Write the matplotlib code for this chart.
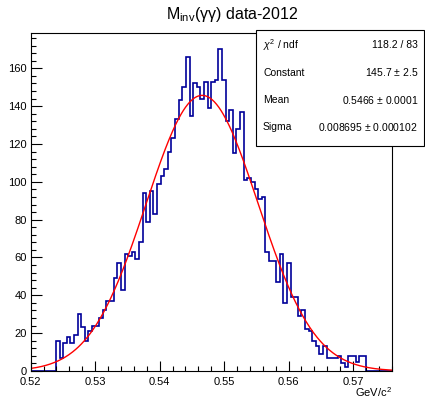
import numpy as np
import matplotlib
matplotlib.use("Agg")
import matplotlib.pyplot as plt
from matplotlib.patches import Rectangle
from matplotlib.ticker import MultipleLocator

plt.rcParams['font.family'] = ['Liberation Sans', 'DejaVu Sans']
plt.rcParams['mathtext.fontset'] = 'custom'
plt.rcParams['mathtext.rm'] = 'Liberation Sans'
plt.rcParams['mathtext.it'] = 'Liberation Sans:italic'

# histogram: 100 bins between 0.52 and 0.576
x_min = 0.52
x_max = 0.576
n_bins = 100

# bin contents (bins 7..92, the rest are empty)
first_bin = 7
counts_nonzero = [16, 7, 15, 18, 15, 19, 30, 23, 16, 21, 24, 24, 28, 32, 37, 37,
                  49, 57, 43, 62, 61, 63, 59, 68, 94, 79, 95, 83, 99, 103, 107,
                  116, 123, 133, 143, 150, 166, 135, 152, 150, 144, 153, 139, 153,
                  154, 170, 154, 132, 138, 115, 128, 137, 101, 102, 100, 96, 91,
                  92, 63, 58, 58, 47, 62, 36, 57, 39, 39, 29, 32, 22, 21, 16, 13,
                  9, 13, 7, 7, 7, 8, 4, 2, 8, 8, 5, 8, 8]

# gaussian fit result
fit_constant = 145.7
fit_mean = 0.5466
fit_sigma = 0.008695

stat_labels = ['$\\chi^2$ / ndf', 'Constant', 'Mean', 'Sigma']
stat_values = ['118.2 / 83', '145.7 $\\pm$ 2.5', '0.5466 $\\pm$ 0.0001',
               '0.008695 $\\pm$ 0.000102']

counts = np.zeros(n_bins)
counts[first_bin:first_bin + len(counts_nonzero)] = counts_nonzero
edges = np.linspace(x_min, x_max, n_bins + 1)

fig = plt.figure(figsize=(4.25, 4.01), dpi=100)
ax = fig.add_axes([0.0722, 0.0748, 0.8494, 0.8421])

ax.stairs(counts, edges, color='#000099', linewidth=1.2)

xf = np.linspace(x_min, x_max, 500)
yf = fit_constant * np.exp(-0.5 * ((xf - fit_mean) / fit_sigma) ** 2)
ax.plot(xf, yf, color='red', linewidth=1.0)

ax.set_xlim(x_min, x_max)
ax.set_ylim(0, 1.05 * max(counts))

ax.xaxis.set_major_locator(MultipleLocator(0.01))
ax.xaxis.set_minor_locator(MultipleLocator(0.002))
ax.yaxis.set_major_locator(MultipleLocator(20))
ax.yaxis.set_minor_locator(MultipleLocator(4))
ax.xaxis.set_major_formatter(matplotlib.ticker.FormatStrFormatter('%.2f'))

ax.tick_params(axis='x', which='major', direction='in', length=7.2, width=0.8,
               labelsize=8, pad=4)
ax.tick_params(axis='x', which='minor', direction='in', length=3.6, width=0.8)
ax.tick_params(axis='y', which='major', direction='in', length=7.8, width=0.8,
               labelsize=8, pad=3)
ax.tick_params(axis='y', which='minor', direction='in', length=3.9, width=0.8)
for s in ax.spines.values():
    s.set_linewidth(0.8)

ax.text(1.0, -0.062, 'GeV/c$^2$', transform=ax.transAxes, ha='right',
        va='center', fontsize=8)

fig.text(232 / 425, 1 - 14 / 401, 'M$_{\\mathrm{inv}}$(γγ) data-2012',
         ha='center', va='center', fontsize=11.5)

# stats box
bx0, bx1 = 256 / 425, 424 / 425
by0, by1 = 1 - 146 / 401, 1 - 30 / 401
fig.patches.append(Rectangle((bx0, by0), bx1 - bx0, by1 - by0,
                             transform=fig.transFigure, facecolor='white',
                             edgecolor='black', linewidth=0.8, zorder=5))
row_y = [45, 72.5, 100, 127]
for lab, val, ry in zip(stat_labels, stat_values, row_y):
    fig.text(263 / 425, 1 - ry / 401, lab, ha='left', va='center',
             fontsize=7.5, zorder=6)
    fig.text(418 / 425, 1 - ry / 401, val, ha='right', va='center',
             fontsize=7.5, zorder=6)

fig.savefig('out.png', dpi=100)
